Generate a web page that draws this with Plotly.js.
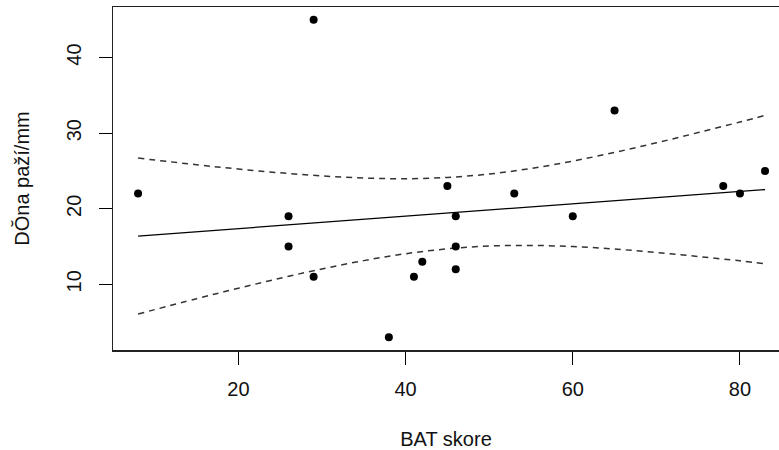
<!DOCTYPE html>
<html>
<head>
<meta charset="utf-8">
<script src="https://cdn.plot.ly/plotly-3.0.1.min.js"></script>
<style>html,body{margin:0;padding:0;background:#fff;}#chart{width:779px;height:450px;}</style>
</head>
<body>
<div id="chart"></div>
<script>
// Scatter data
const batScore = [8, 29, 26, 26, 29, 38, 41, 42, 45, 46, 46, 46, 53, 60, 65, 78, 80, 83];
const armLength = [22, 45, 19, 15, 11, 3, 11, 13, 23, 19, 15, 12, 22, 19, 33, 23, 22, 25];

// Regression line and 95% confidence band
const fitX = [8, 15, 20, 25, 30, 35, 40, 45, 50, 55, 60, 65, 70, 75, 80, 83];
const fitY = [16.39, 16.96, 17.37, 17.78, 18.19, 18.60, 19.01, 19.42, 19.83, 20.24, 20.65, 21.06, 21.47, 21.88, 22.29, 22.54];
const upperY = [26.70, 25.82, 25.25, 24.75, 24.34, 24.06, 23.97, 24.14, 24.59, 25.33, 26.30, 27.45, 28.72, 30.07, 31.47, 32.34];
const lowerY = [6.08, 8.10, 9.49, 10.81, 12.04, 13.14, 14.05, 14.70, 15.07, 15.15, 15.00, 14.67, 14.22, 13.69, 13.11, 12.74];

const xTicks = [20, 40, 60, 80];
const yTicks = [10, 20, 30, 40];
const xTitle = "BAT skore";
const yTitle = "DŎna paží/mm";

const font = {family: "Liberation Sans, Arial, sans-serif", size: 20, color: "#111"};

const traces = [
  {x: fitX, y: upperY, mode: "lines", line: {color: "#333", width: 1.5, dash: "6px,5px", shape: "spline"}, hoverinfo: "skip"},
  {x: fitX, y: lowerY, mode: "lines", line: {color: "#333", width: 1.5, dash: "6px,5px", shape: "spline"}, hoverinfo: "skip"},
  {x: fitX, y: fitY, mode: "lines", line: {color: "#000", width: 1.3}},
  {x: batScore, y: armLength, mode: "markers", marker: {color: "#000", size: 8, line: {width: 0}}}
];

const layout = {
  width: 779, height: 450,
  margin: {l: 113, r: 0, t: 7, b: 100, pad: 0},
  paper_bgcolor: "#fff", plot_bgcolor: "#fff",
  showlegend: false,
  font: font,
  xaxis: {
    range: [5, 84.67], tickvals: xTicks, ticktext: xTicks.map(String),
    ticks: "outside", ticklen: 13, tickwidth: 1, tickcolor: "#000",
    showline: true, linecolor: "#222", linewidth: 1.5, mirror: true,
    showgrid: false, zeroline: false, tickfont: font,
    ticklabelstandoff: 7,
    title: {text: xTitle, font: font, standoff: 35}
  },
  yaxis: {
    range: [1.32, 46.68], tickvals: yTicks, ticktext: yTicks.map(String),
    ticks: "outside", ticklen: 13, tickwidth: 1, tickcolor: "#000",
    showline: true, linecolor: "#222", linewidth: 1.5, mirror: false,
    showgrid: false, zeroline: false, tickfont: font, tickangle: -90,
    ticklabelstandoff: 10,
    title: {text: yTitle, font: font, standoff: 27}
  }
};

Plotly.newPlot("chart", traces, layout, {staticPlot: true, displayModeBar: false});
</script>
</body>
</html>
